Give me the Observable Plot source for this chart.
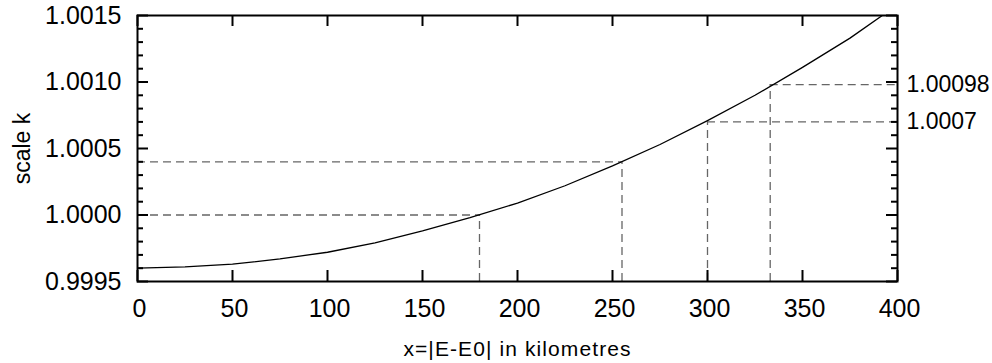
<!DOCTYPE html>
<html><head><meta charset="utf-8">
<script src="https://cdn.jsdelivr.net/npm/d3@7"></script>
<script src="https://cdn.jsdelivr.net/npm/@observablehq/plot@0.6"></script>
<style>html,body{margin:0;padding:0;background:#fff;}</style>
</head><body><div id="chart"></div>
<script>
// curve: distance from central meridian (km) -> scale factor k
const curveX = [0, 25, 50, 75, 100, 125, 150, 175, 200, 225, 250, 275, 300, 325, 350, 375, 392];
const curveK = [0.99960, 0.99961, 0.99963, 0.99967, 0.99972, 0.99979, 0.99988, 0.99998, 1.00009, 1.00022, 1.00037, 1.00053, 1.00071, 1.00090, 1.00111, 1.00133, 1.00150];

const xTicks = [0, 50, 100, 150, 200, 250, 300, 350, 400];
const yTicks = [0.9995, 1.0000, 1.0005, 1.0010, 1.0015];
const yTickLabels = ["0.9995", "1.0000", "1.0005", "1.0010", "1.0015"];
const yMinorTicks = [0.9996, 0.9997, 0.9998, 0.9999, 1.0001, 1.0002, 1.0003, 1.0004, 1.0006, 1.0007, 1.0008, 1.0009, 1.0011, 1.0012, 1.0013, 1.0014];

const leftMarkX = [180, 255];
const leftMarkK = [1.0000, 1.0004];
const rightMarkX = [300, 333];
const rightMarkK = [1.0007, 1.00098];
const rightLabels = ["1.0007", "1.00098"];

const xDomain = [0, 400];
const yDomain = [0.9995, 1.0015];

const yLabel = "scale k";
const xLabel = "x=|E-E0| in kilometres";

// layout
const W = 992, H = 363;
const mL = 137, mR = 95, mT = 15, mB = 82;
const pw = W - mL - mR, ph = H - mT - mB;
const majorLen = 11, minorLen = 6;

const curve = curveX.map((x, i) => ({x, k: curveK[i]}));
const leftMarks = leftMarkX.map((x, i) => ({x, k: leftMarkK[i]}));
const rightMarks = rightMarkX.map((x, i) => ({x, k: rightMarkK[i]}));
const allMarks = leftMarks.concat(rightMarks);

const dash = {stroke: "#666", strokeWidth: 1.3, strokeDasharray: "8,5"};
const tickStyle = {stroke: "#000", strokeWidth: 2};

const chart = Plot.plot({
  width: W, height: H,
  marginLeft: mL, marginRight: mR, marginTop: mT, marginBottom: mB,
  style: {fontFamily: "'Liberation Sans', Arial, sans-serif", fontSize: "25px", background: "#fff", color: "#000"},
  x: {domain: xDomain},
  y: {domain: yDomain},
  marks: [
    // dashed guide lines
    Plot.ruleY(leftMarks, {y: "k", x1: xDomain[0], x2: "x", ...dash}),
    Plot.ruleY(rightMarks, {y: "k", x1: "x", x2: xDomain[1], ...dash}),
    Plot.ruleX(allMarks, {x: "x", y1: yDomain[0], y2: "k", ...dash}),
    // curve
    Plot.line(curve, {x: "x", y: "k", stroke: "#000", strokeWidth: 1.3, clip: true}),
    // inward ticks
    Plot.tickY(yTicks, {y: d => d, insetRight: pw - majorLen, ...tickStyle}),
    Plot.tickY(yMinorTicks, {y: d => d, insetRight: pw - minorLen, ...tickStyle}),
    Plot.tickY(yTicks, {y: d => d, insetLeft: pw - majorLen, ...tickStyle}),
    Plot.tickY(yMinorTicks, {y: d => d, insetLeft: pw - minorLen, ...tickStyle}),
    Plot.tickX(xTicks, {x: d => d, insetTop: ph - majorLen, ...tickStyle}),
    Plot.tickX(xTicks, {x: d => d, insetBottom: ph - majorLen, ...tickStyle}),
    // tick labels
    Plot.axisY({ticks: yTicks, tickSize: 0, tickPadding: 16, label: null,
      tickFormat: d => yTickLabels[yTicks.indexOf(d)]}),
    Plot.axisY({anchor: "right", ticks: rightMarkK, tickSize: 0, tickPadding: 9, label: null, fontSize: 23,
      tickFormat: d => rightLabels[rightMarkK.indexOf(d)]}),
    Plot.axisX({ticks: xTicks, tickSize: 0, tickPadding: 18, label: null, dx: 2}),
    // axis titles
    Plot.text([yLabel], {text: d => d, frameAnchor: "left", textAnchor: "middle", dx: -115, rotate: -90, fontSize: 23}),
    Plot.text([xLabel], {text: d => d, frameAnchor: "bottom", textAnchor: "middle", dy: 68, lineAnchor: "middle", fontSize: 21}),
    // frame
    Plot.frame({stroke: "#000", strokeWidth: 2})
  ]
});
d3.select(chart).selectAll("text").filter(function () { return this.textContent === xLabel; })
  .attr("letter-spacing", "1.1");
document.getElementById("chart").appendChild(chart);
</script>
</body></html>
